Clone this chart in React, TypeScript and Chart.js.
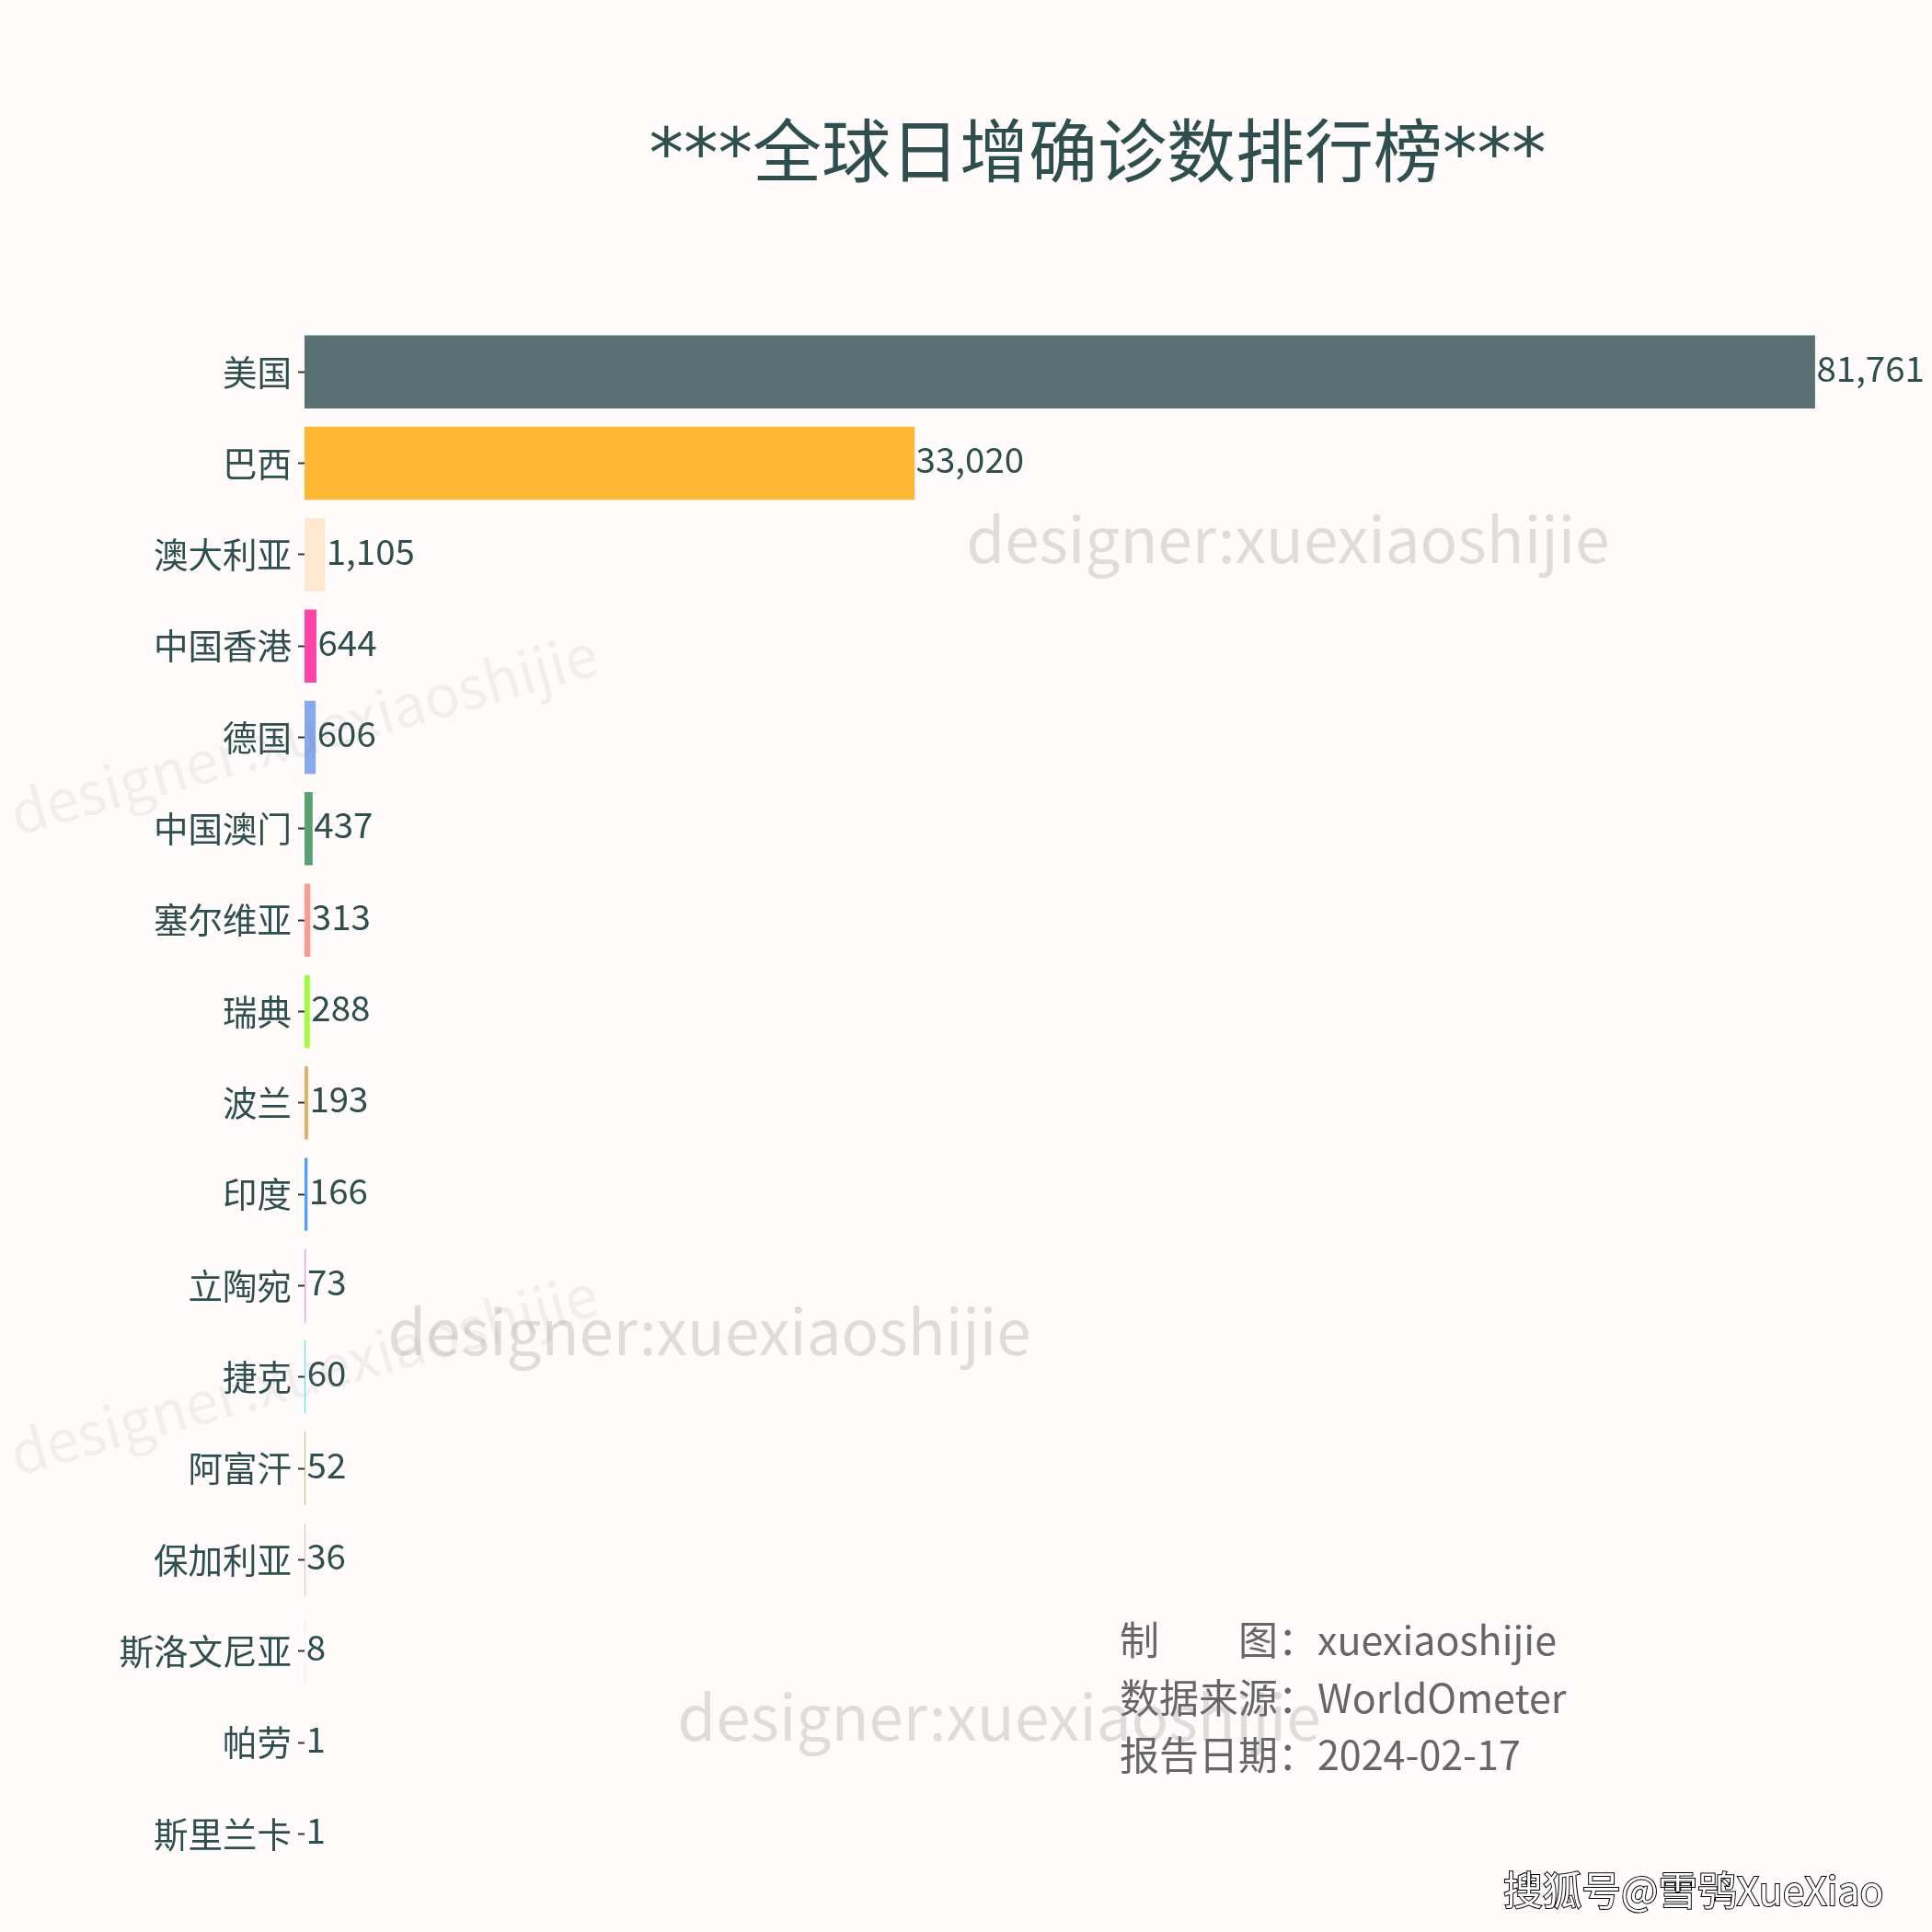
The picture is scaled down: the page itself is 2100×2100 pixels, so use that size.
import React, { useEffect, useRef } from 'react'
import { Chart, registerables } from 'chart.js'

Chart.register(...registerables)

const countries = ['美国', '巴西', '澳大利亚', '中国香港', '德国', '中国澳门', '塞尔维亚', '瑞典', '波兰', '印度', '立陶宛', '捷克', '阿富汗', '保加利亚', '斯洛文尼亚', '帕劳', '斯里兰卡']
const dailyCases = [81761, 33020, 1105, 644, 606, 437, 313, 288, 193, 166, 73, 60, 52, 36, 8, 1, 1]
const barColors = ['#5A7173', '#FFB632', '#FFE8CF', '#FF44A8', '#87A9EE', '#5AA073', '#FF9C8E', '#9EFF3A', '#E5AF62', '#4F9FFF', '#EDA0EE', '#50EEEE', '#B4CC72', '#F0A0A8', '#D0A0E0', '#A0C0E0', '#C0C0C0']
const creditLines = ['制　　图：xuexiaoshijie', '数据来源：WorldOmeter', '报告日期：2024-02-17']

const FONT = '"Noto Sans CJK SC", "Noto Sans", sans-serif'
const TITLE_FONT = '"DejaVu Sans", "Noto Sans CJK SC", sans-serif'
const TEXT_COLOR = '#2F4F4F'
const BG_COLOR = '#FFFBFA'

const overlayPlugin = {
    id: 'overlay',
    beforeDraw(chart: any) {
        const { ctx, width, height } = chart
        ctx.save()
        ctx.fillStyle = BG_COLOR
        ctx.fillRect(0, 0, width, height)
        ctx.restore()
    },
    afterDraw(chart: any) {
        const { ctx } = chart
        ctx.save()

        // value labels at the end of each bar
        ctx.font = `38.5px ${FONT}`
        ctx.fillStyle = TEXT_COLOR
        ctx.textAlign = 'left'
        ctx.textBaseline = 'middle'
        chart.getDatasetMeta(0).data.forEach((bar: any, i: number) => {
            ctx.fillText(dailyCases[i].toLocaleString('en-US'), bar.x + 1.5, bar.y - 4)
        })

        // credits
        ctx.font = `43px ${FONT}`
        ctx.fillStyle = '#666666'
        creditLines.forEach((line, i) => {
            ctx.fillText(line, 1217, 1783 + i * 62.5)
        })

        // watermarks
        ctx.font = `67.3px ${FONT}`
        ctx.textAlign = 'center'
        ctx.fillStyle = 'rgba(128, 128, 128, 0.25)'
        ctx.fillText('designer:xuexiaoshijie', 1400, 586)
        ctx.fillText('designer:xuexiaoshijie', 771, 1447)
        ctx.fillText('designer:xuexiaoshijie', 1086, 1866)
        ctx.font = `63.5px ${FONT}`
        ctx.fillStyle = 'rgba(128, 128, 128, 0.1)'
        const rotated = [[330, 797], [330, 1493]]
        rotated.forEach(([x, y]) => {
            ctx.save()
            ctx.translate(x, y)
            ctx.rotate(-15.5 * Math.PI / 180)
            ctx.fillText('designer:xuexiaoshijie', 0, 0)
            ctx.restore()
        })

        // site mark, bottom right
        ctx.font = `42.7px ${FONT}`
        ctx.textAlign = 'left'
        ctx.strokeStyle = '#000000'
        ctx.lineWidth = 2
        ctx.strokeText('搜狐号@雪鸮XueXiao', 1634, 2055)
        ctx.fillStyle = '#FFFFFF'
        ctx.fillText('搜狐号@雪鸮XueXiao', 1634, 2055)
        ctx.restore()
    }
}

const App: React.FC = () => {
    const chartRef = useRef<HTMLCanvasElement>(null)

    useEffect(() => {
        if (!chartRef.current) return
        const chart = new Chart(chartRef.current, {
            type: 'bar',
            data: {
                labels: countries,
                datasets: [{
                    data: dailyCases,
                    backgroundColor: barColors,
                    barPercentage: 0.8,
                    categoryPercentage: 1
                }]
            },
            options: {
                indexAxis: 'y',
                responsive: false,
                animation: false,
                devicePixelRatio: 1,
                layout: { padding: { left: 0, right: 45, top: 0, bottom: 57 } },
                plugins: {
                    legend: { display: false },
                    tooltip: { enabled: false },
                    title: {
                        display: true,
                        text: '***全球日增确诊数排行榜***',
                        color: TEXT_COLOR,
                        fullSize: false,
                        font: { size: 75, weight: 'normal', family: TITLE_FONT },
                        padding: { top: 128, bottom: 136.6 }
                    }
                },
                scales: {
                    x: {
                        display: false,
                        min: 0,
                        max: 85849
                    },
                    y: {
                        afterFit: (scale: any) => { scale.width = 331 },
                        border: { display: false },
                        grid: {
                            offset: false,
                            drawOnChartArea: false,
                            drawTicks: true,
                            tickLength: 7,
                            tickColor: '#333333',
                            tickWidth: 2
                        },
                        ticks: {
                            color: TEXT_COLOR,
                            padding: 7,
                            autoSkip: false,
                            font: { size: 37.5, family: FONT }
                        }
                    }
                }
            },
            plugins: [overlayPlugin]
        })

        return () => {
            chart.destroy()
        }
    }, [])

    return (
        <div style={{ position: 'absolute', left: 0, top: 0, width: 2100, height: 2100, background: BG_COLOR }}>
            <canvas ref={chartRef} width={2100} height={2100} style={{ display: 'block' }}></canvas>
        </div>
    )
}

export default App
